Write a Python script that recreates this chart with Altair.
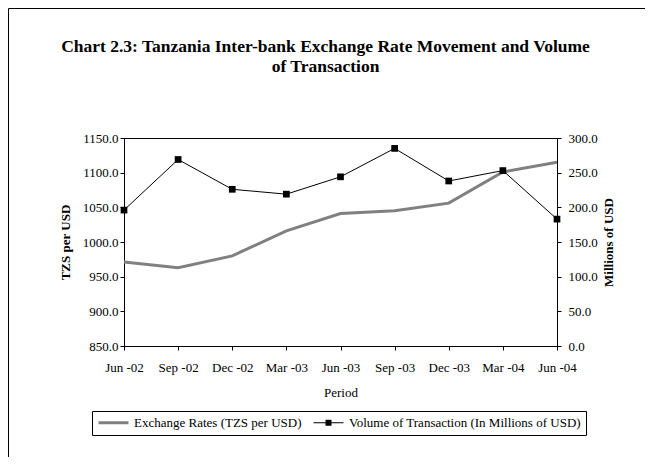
import altair as alt
import pandas as pd

periods = ["Jun -02", "Sep -02", "Dec -02", "Mar -03", "Jun -03",
           "Sep -03", "Dec -03", "Mar -04", "Jun -04"]
exchange_rates = [971, 963, 980, 1016, 1041, 1045, 1056, 1101, 1115]
volumes = [196, 269, 226, 219, 244, 285, 238, 253, 183]

EX = "Exchange Rates (TZS per USD)"
VOL = "Volume of Transaction (In Millions of USD)"

df = pd.DataFrame({
    "period": periods * 2,
    "series": [EX] * len(periods) + [VOL] * len(periods),
    "value": exchange_rates + volumes,
})

FONT = "Liberation Serif"

color_scale = alt.Scale(domain=[EX, VOL], range=["#808080", "#000000"])
shape_scale = alt.Scale(
    domain=[EX, VOL],
    range=["M-1,-0.3H5V0.3H-1Z",
           "M-1,-0.1H5V0.1H-1ZM1.4,-0.6H2.6V0.6H1.4Z"],
)

legend = alt.Legend(
    title=None, orient="none", legendX=-32, legendY=273, direction="horizontal",
    strokeColor="black", padding=5, symbolSize=100, labelFont=FONT,
    labelFontSize=13, labelColor="black", labelOffset=24, columnPadding=10,
    symbolOpacity=1, symbolStrokeWidth=0, labelLimit=0,
)

x_enc = alt.X(
    "period:N", sort=periods, scale=alt.Scale(type="point", padding=0),
    axis=alt.Axis(title="Period", labelAngle=0, titleFontWeight="normal",
                  labelPadding=11, tickSize=4, titleY=46, titleBaseline="middle"),
)

color_enc = alt.Color("series:N", scale=color_scale, legend=legend)

base = alt.Chart(df)

rates = base.transform_filter(alt.datum.series == EX).mark_line(
    strokeWidth=3
).encode(
    x=x_enc,
    y=alt.Y("value:Q", scale=alt.Scale(domain=[850, 1150], nice=False, zero=False),
            axis=alt.Axis(title="TZS per USD", orient="left", format=".1f",
                          values=list(range(850, 1151, 50)), tickSize=4,
                          labelPadding=2, titleX=-59, titleY=104,
                          titleBaseline="middle", titleAngle=270)),
    color=color_enc,
)

y_right = alt.Y("value:Q", scale=alt.Scale(domain=[0, 300], nice=False),
                axis=alt.Axis(title="Millions of USD", orient="right", format=".1f",
                              values=list(range(0, 301, 50)), tickSize=4,
                              labelPadding=7, titleX=51, titleY=104,
                              titleBaseline="middle", titleAngle=270))

vol_line = base.transform_filter(alt.datum.series == VOL).mark_line(
    strokeWidth=1
).encode(x=x_enc, y=y_right, color=color_enc)

vol_pts = base.transform_filter(alt.datum.series == VOL).mark_point(
    shape="square", filled=True, size=45, opacity=1, color="black"
).encode(x=x_enc, y=y_right)

legend_layer = base.mark_point(
    filled=True, size=100, opacity=0
).encode(
    x=x_enc,
    y=y_right,
    color=color_enc,
    shape=alt.Shape("series:N", scale=shape_scale, legend=legend),
).transform_filter(alt.datum.series == VOL)

vol = alt.layer(vol_line, vol_pts, legend_layer)

frame_data = alt.Data(values=[{"k": 1}])
frame_left = alt.Chart(frame_data).mark_rule(color="black", strokeWidth=1).encode(
    x=alt.value(-115.5), y=alt.value(-129.5), y2=alt.value(330)
)
frame_top = alt.Chart(frame_data).mark_rule(color="black", strokeWidth=1).encode(
    x=alt.value(-115.5), x2=alt.value(530), y=alt.value(-129.5)
)

chart = alt.layer(rates, vol, frame_left, frame_top).resolve_scale(
    y="independent"
).properties(
    width=433, height=208,
    autosize=alt.AutoSizeParams(type="none"),
    padding={"left": 116, "top": 130, "right": 88, "bottom": 111},
    title=alt.TitleParams(
        text=["Chart 2.3: Tanzania Inter-bank Exchange Rate Movement and Volume",
              "of Transaction"],
        font=FONT, fontSize=17.5, fontWeight="bold", anchor="middle", frame="group",
        baseline="alphabetic", lineHeight=20, offset=0, dy=81, dx=-15, color="black",
    ),
).configure_view(
    stroke="black", strokeWidth=1
).configure_axis(
    labelFont=FONT, labelFontSize=13, labelColor="black",
    titleFont=FONT, titleFontSize=13, titleColor="black",
    domainColor="black", tickColor="black", grid=False,
).configure_axisY(
    titleFontWeight="bold"
)

chart.save("out.html", embed_options={"renderer": "svg", "actions": False})
